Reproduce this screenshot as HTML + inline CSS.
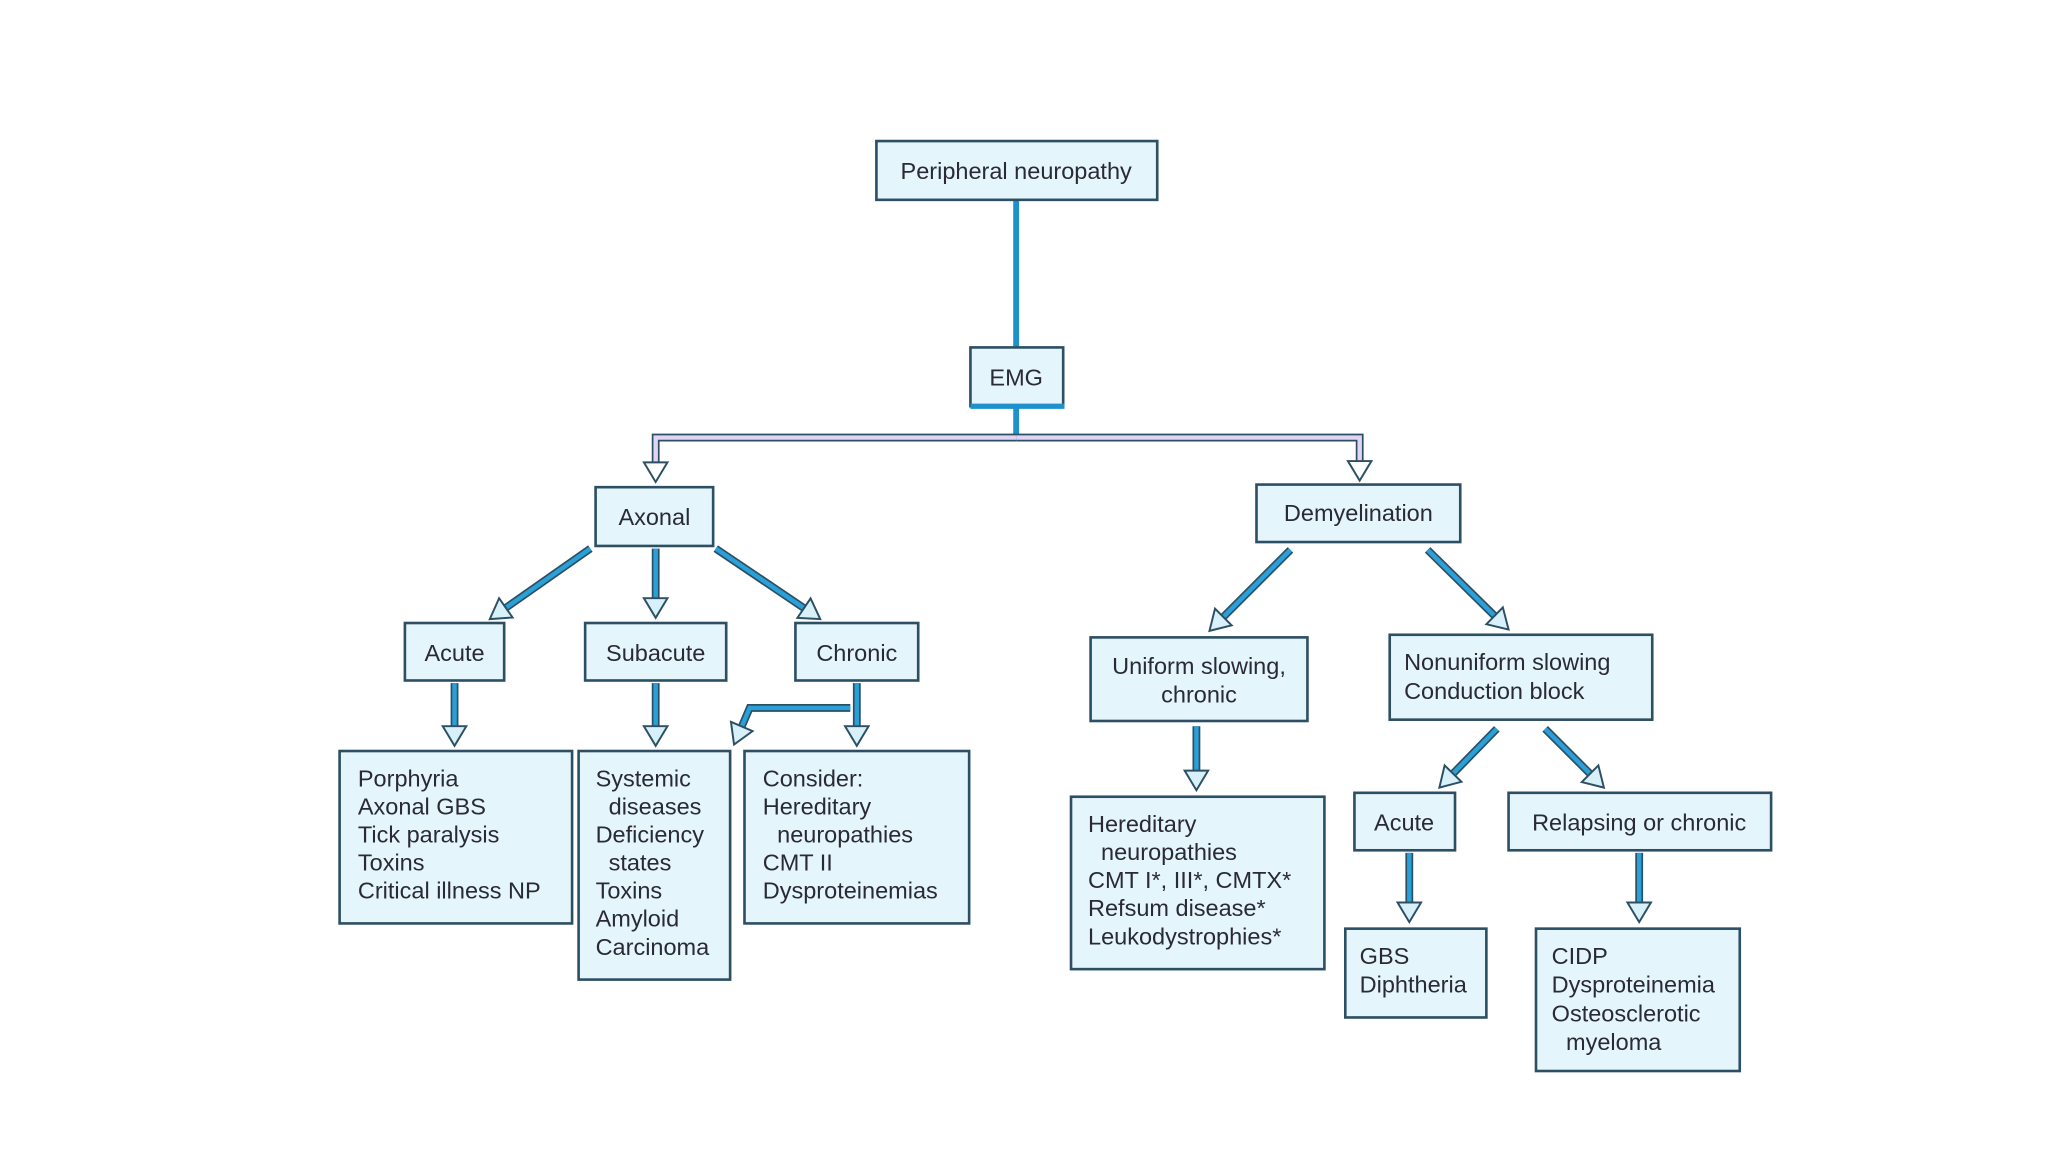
<!DOCTYPE html>
<html><head><meta charset="utf-8"><style>
html,body{margin:0;padding:0;background:#fff;width:2048px;height:1152px;overflow:hidden}
svg{display:block}
text{font-family:"Liberation Sans",sans-serif;font-size:18px;fill:#2a2a35}
</style></head><body>
<svg id="s" width="2048" height="1152" viewBox="0 0 1568 882" xmlns="http://www.w3.org/2000/svg">
<g id="lines"></g>
<g id="boxes" fill="#e4f5fb" stroke="#2d4f63" stroke-width="2">
<rect x="671" y="108" width="215" height="45"/>
<rect x="743" y="266" width="71" height="45"/>
<rect x="456" y="373" width="90" height="45"/>
<rect x="962" y="371" width="156" height="44"/>
<rect x="310" y="477" width="76" height="44"/>
<rect x="448" y="477" width="108" height="44"/>
<rect x="609" y="477" width="94" height="44"/>
<rect x="260" y="575" width="178" height="132"/>
<rect x="443" y="575" width="116" height="175"/>
<rect x="570" y="575" width="172" height="132"/>
<rect x="835" y="488" width="166" height="64"/>
<rect x="1064" y="486" width="201" height="65"/>
<rect x="820" y="610" width="194" height="132"/>
<rect x="1037" y="607" width="77" height="44"/>
<rect x="1155" y="607" width="201" height="44"/>
<rect x="1030" y="711" width="108" height="68"/>
<rect x="1176" y="711" width="156" height="109"/>
</g>
<line x1="743" y1="311" x2="815" y2="311" stroke="#1e90cc" stroke-width="4"/>
<g>
<text x="778" y="137" text-anchor="middle">Peripheral neuropathy</text>
<text x="778" y="295" text-anchor="middle">EMG</text>
<text x="501" y="402" text-anchor="middle">Axonal</text>
<text x="1040" y="399" text-anchor="middle">Demyelination</text>
<text x="348" y="506" text-anchor="middle">Acute</text>
<text x="502" y="506" text-anchor="middle">Subacute</text>
<text x="656" y="506" text-anchor="middle">Chronic</text>
<text x="274" y="602">Porphyria</text>
<text x="274" y="623.5">Axonal GBS</text>
<text x="274" y="645">Tick paralysis</text>
<text x="274" y="666.5">Toxins</text>
<text x="274" y="688">Critical illness NP</text>
<text x="456" y="602">Systemic</text>
<text x="466" y="623.5">diseases</text>
<text x="456" y="645">Deficiency</text>
<text x="466" y="666.5">states</text>
<text x="456" y="688">Toxins</text>
<text x="456" y="709.5">Amyloid</text>
<text x="456" y="731">Carcinoma</text>
<text x="584" y="602">Consider:</text>
<text x="584" y="623.5">Hereditary</text>
<text x="595" y="645">neuropathies</text>
<text x="584" y="666.5">CMT II</text>
<text x="584" y="688">Dysproteinemias</text>
<text x="918" y="516" text-anchor="middle">Uniform slowing,</text>
<text x="918" y="538" text-anchor="middle">chronic</text>
<text x="1075" y="513">Nonuniform slowing</text>
<text x="1075" y="535">Conduction block</text>
<text x="833" y="637">Hereditary</text>
<text x="843" y="658.5">neuropathies</text>
<text x="833" y="680">CMT I*, III*, CMTX*</text>
<text x="833" y="701.5">Refsum disease*</text>
<text x="833" y="723">Leukodystrophies*</text>
<text x="1075" y="636" text-anchor="middle">Acute</text>
<text x="1255" y="636" text-anchor="middle">Relapsing or chronic</text>
<text x="1041" y="738">GBS</text>
<text x="1041" y="760">Diphtheria</text>
<text x="1188" y="738">CIDP</text>
<text x="1188" y="760">Dysproteinemia</text>
<text x="1188" y="782">Osteosclerotic</text>
<text x="1199" y="804">myeloma</text>
</g>
</svg>
<script>
var NS="http://www.w3.org/2000/svg",g=document.getElementById('lines');
function el(t,a){var e=document.createElementNS(NS,t);for(var k in a)e.setAttribute(k,a[k]);g.appendChild(e);return e;}
function arrow(pts,col,fill){
  var n=pts.length,x2=pts[n-1][0],y2=pts[n-1][1],x1=pts[n-2][0],y1=pts[n-2][1];
  var dx=x2-x1,dy=y2-y1,L=Math.hypot(dx,dy),ux=dx/L,uy=dy/L,px=-uy,py=ux,h=15,w=9;
  var bx=x2-ux*h,by=y2-uy*h;
  var p=pts.slice(0,n-1).concat([[bx,by]]).map(function(q){return q.join(',')}).join(' ');
  el('polyline',{points:p,fill:'none',stroke:'#2d4f63','stroke-width':6,'stroke-linejoin':'miter'});
  el('polyline',{points:p,fill:'none',stroke:col,'stroke-width':3.4,'stroke-linejoin':'miter'});
  el('polygon',{points:[[bx+px*w,by+py*w],[x2,y2],[bx-px*w,by-py*w]].map(function(q){return q.join(',')}).join(' '),fill:fill,stroke:'#2d4f63','stroke-width':1.5});
}
var B='#2aa0d8',F='#d8f0fa';
// top line
el('line',{x1:778,y1:153,x2:778,y2:266,stroke:'#1e90cc','stroke-width':4.5});
el('line',{x1:778,y1:311,x2:778,y2:333,stroke:'#1e90cc','stroke-width':4.5});
// purple bracket
arrow([[778,335],[502,335],[502,369]],'#e3d3f5','#fff');
arrow([[778,335],[1041,335],[1041,368]],'#e3d3f5','#fff');
arrow([[452,420],[375,474]],B,F);
arrow([[502,420],[502,473]],B,F);
arrow([[548,420],[628,474]],B,F);
arrow([[348,523],[348,571]],B,F);
arrow([[502,523],[502,571]],B,F);
arrow([[656,523],[656,571]],B,F);
arrow([[651,542],[574,542],[562,570]],B,F);
arrow([[988,421],[926,483]],B,F);
arrow([[1093,421],[1155,482]],B,F);
arrow([[916,556],[916,605]],B,F);
arrow([[1146,558],[1102,603]],B,F);
arrow([[1183,558],[1228,603]],B,F);
arrow([[1079,653],[1079,706]],B,F);
arrow([[1255,653],[1255,706]],B,F);
</script>
</body></html>
